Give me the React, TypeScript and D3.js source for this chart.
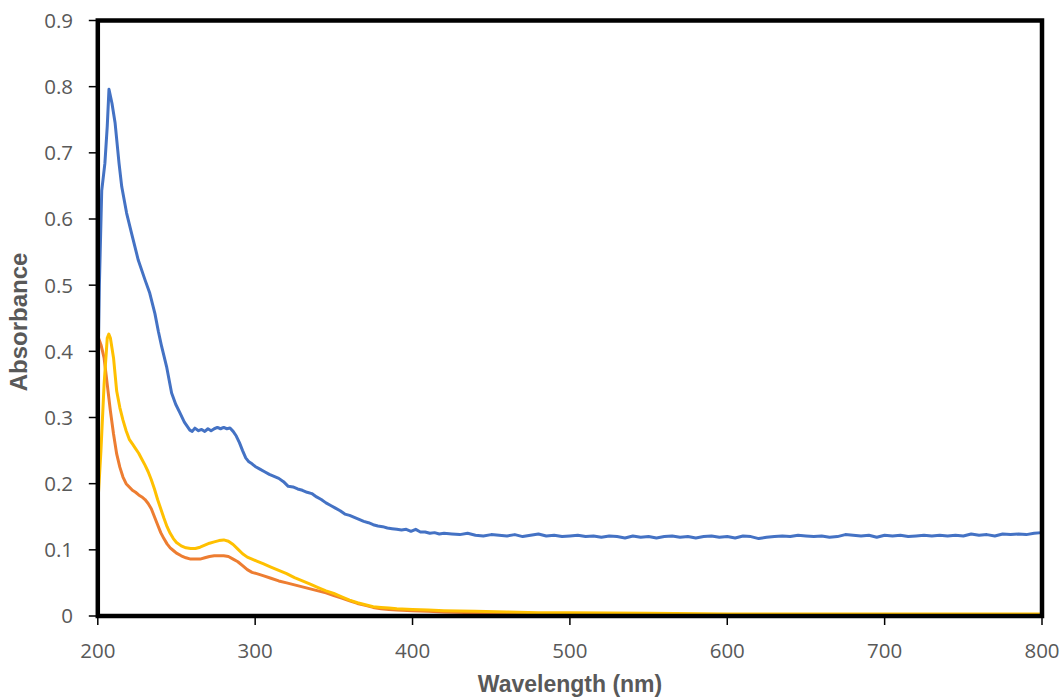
import React from "react";
import * as d3 from "d3";

const blueNm = [200, 201, 202.5, 204.5, 206, 207.1, 209, 211, 213.5, 215.2, 218.3, 221.5, 225.7, 230, 233, 236.3, 238.5, 240.6, 243.7, 246.9, 249.5, 252.2, 255, 258.5, 260, 261.7, 264, 266, 268, 270, 272, 274, 276, 278, 280, 282, 284, 286, 288, 290, 292, 294, 296, 298, 300, 303, 306, 309, 312, 315, 318, 321, 324, 327, 330, 333, 336, 339, 342, 345, 348, 351, 354, 357, 360, 363, 366, 369, 372, 375, 378, 381, 384, 387, 390, 393, 396, 399, 402, 405, 408, 411, 414, 417, 420, 425, 430, 435, 440, 445, 450, 455, 460, 465, 470, 475, 480, 485, 490, 495, 500, 505, 510, 515, 520, 525, 530, 535, 540, 545, 550, 555, 560, 565, 570, 575, 580, 585, 590, 595, 600, 605, 610, 615, 620, 625, 630, 635, 640, 645, 650, 655, 660, 665, 670, 675, 680, 685, 690, 695, 700, 705, 710, 715, 720, 725, 730, 735, 740, 745, 750, 755, 760, 765, 770, 775, 780, 785, 790, 795, 800];
const blueAbs = [0.354, 0.5, 0.643, 0.684, 0.74, 0.796, 0.775, 0.745, 0.684, 0.649, 0.609, 0.578, 0.538, 0.508, 0.488, 0.457, 0.43, 0.407, 0.377, 0.337, 0.32, 0.307, 0.293, 0.281, 0.279, 0.284, 0.28, 0.282, 0.279, 0.283, 0.28, 0.283, 0.285, 0.283, 0.285, 0.283, 0.284, 0.279, 0.272, 0.262, 0.25, 0.239, 0.233, 0.23, 0.226, 0.222, 0.218, 0.214, 0.211, 0.208, 0.203, 0.196, 0.195, 0.192, 0.19, 0.187, 0.185, 0.18, 0.176, 0.171, 0.167, 0.163, 0.159, 0.154, 0.152, 0.149, 0.146, 0.143, 0.141, 0.138, 0.136, 0.135, 0.133, 0.132, 0.131, 0.13, 0.131, 0.128, 0.131, 0.127, 0.127, 0.125, 0.126, 0.124, 0.125, 0.124, 0.123, 0.125, 0.122, 0.121, 0.123, 0.122, 0.121, 0.123, 0.12, 0.122, 0.124, 0.121, 0.122, 0.12, 0.121, 0.122, 0.12, 0.121, 0.119, 0.121, 0.12, 0.118, 0.121, 0.119, 0.12, 0.118, 0.12, 0.121, 0.119, 0.12, 0.118, 0.12, 0.121, 0.119, 0.12, 0.118, 0.121, 0.12, 0.117, 0.119, 0.12, 0.121, 0.12, 0.122, 0.121, 0.12, 0.121, 0.119, 0.12, 0.123, 0.122, 0.121, 0.122, 0.119, 0.122, 0.121, 0.122, 0.12, 0.121, 0.122, 0.121, 0.122, 0.121, 0.122, 0.121, 0.124, 0.122, 0.123, 0.121, 0.124, 0.123, 0.124, 0.123, 0.125, 0.126];

const orangeNm = [200, 202, 204, 206, 208, 210, 212, 214, 216, 218, 220, 222, 224, 226, 228, 230, 232, 234, 236, 238, 240, 242, 244, 246, 248, 250, 253, 256, 259, 262, 265, 268, 271, 274, 277, 280, 283, 286, 289, 292, 295, 298, 301, 305, 310, 315, 320, 325, 330, 335, 340, 345, 350, 355, 360, 365, 370, 375, 380, 385, 390, 400, 410, 420, 440, 460, 480, 500, 550, 600, 700, 800];
const orangeAbs = [0.423, 0.41, 0.39, 0.35, 0.31, 0.275, 0.245, 0.225, 0.21, 0.2, 0.195, 0.19, 0.187, 0.183, 0.18, 0.176, 0.17, 0.162, 0.15, 0.138, 0.126, 0.117, 0.109, 0.103, 0.099, 0.095, 0.091, 0.088, 0.086, 0.086, 0.086, 0.088, 0.09, 0.091, 0.091, 0.091, 0.09, 0.086, 0.082, 0.076, 0.07, 0.066, 0.064, 0.061, 0.057, 0.053, 0.05, 0.047, 0.044, 0.041, 0.038, 0.035, 0.031, 0.027, 0.023, 0.019, 0.016, 0.013, 0.011, 0.01, 0.009, 0.008, 0.007, 0.006, 0.005, 0.004, 0.003, 0.003, 0.002, 0.002, 0.002, 0.002];

const yellowNm = [200, 202, 204, 206, 207, 208, 210, 212, 214, 216, 218, 220, 222, 224, 226, 228, 230, 232, 234, 236, 238, 240, 242, 244, 246, 248, 250, 253, 256, 259, 262, 265, 268, 271, 274, 277, 280, 283, 286, 289, 292, 295, 298, 301, 305, 310, 315, 320, 325, 330, 335, 340, 345, 350, 355, 360, 365, 370, 375, 380, 385, 390, 400, 410, 420, 440, 460, 480, 500, 550, 600, 700, 800];
const yellowAbs = [0.168, 0.25, 0.35, 0.42, 0.426, 0.42, 0.39, 0.34, 0.315, 0.296, 0.28, 0.267, 0.26, 0.253, 0.246, 0.237, 0.228, 0.218, 0.206, 0.192, 0.176, 0.162, 0.148, 0.135, 0.125, 0.117, 0.111, 0.106, 0.103, 0.102, 0.102, 0.104, 0.107, 0.11, 0.112, 0.114, 0.115, 0.113, 0.108, 0.101, 0.094, 0.089, 0.086, 0.083, 0.079, 0.074, 0.069, 0.064, 0.058, 0.053, 0.048, 0.043, 0.038, 0.034, 0.029, 0.024, 0.02, 0.017, 0.014, 0.013, 0.012, 0.011, 0.01, 0.009, 0.008, 0.007, 0.006, 0.005, 0.005, 0.004, 0.003, 0.003, 0.003];

const xTicks = [200, 300, 400, 500, 600, 700, 800];
const yTicks = [0, 0.1, 0.2, 0.3, 0.4, 0.5, 0.6, 0.7, 0.8, 0.9];

const W = 1063;
const H = 698;
const L = 97.8;
const R = 1042;
const T = 20.5;
const B = 616;

export default function App() {
  const x = d3.scaleLinear().domain([200, 800]).range([L, R]);
  const y = d3.scaleLinear().domain([0, 0.9]).range([B, T]);
  const line = d3
    .line<[number, number]>()
    .x((d) => x(d[0]))
    .y((d) => y(d[1]));
  const series = [
    { nm: blueNm, v: blueAbs, color: "#4472C4" },
    { nm: orangeNm, v: orangeAbs, color: "#ED7D31" },
    { nm: yellowNm, v: yellowAbs, color: "#FFC000" },
  ];
  const tickFont = "'Open Sans', 'Noto Sans', sans-serif";
  const titleFont = "'Liberation Sans', Arial, sans-serif";
  return (
    <svg
      width={W}
      height={H}
      style={{ position: "absolute", left: 0, top: 0, background: "#fff" }}
    >
      {series.map((s, i) => (
        <path
          key={i}
          d={line(s.nm.map((n, j) => [n, s.v[j]] as [number, number])) || ""}
          fill="none"
          stroke={s.color}
          strokeWidth={3}
          strokeLinejoin="round"
        />
      ))}
      <rect
        x={L}
        y={T}
        width={R - L}
        height={B - T}
        fill="none"
        stroke="#000"
        strokeWidth={4.5}
      />
      {yTicks.map((t) => (
        <g key={"y" + t}>
          <line x1={L - 9} x2={L} y1={y(t)} y2={y(t)} stroke="#000" strokeWidth={1.5} />
          <text
            x={73}
            y={y(t)}
            dy="0.36em"
            textAnchor="end"
            fontFamily={tickFont}
            fontSize={20.5}
            fill="#595959"
          >
            {t === 0 ? "0" : t.toFixed(1)}
          </text>
        </g>
      ))}
      {xTicks.map((t) => (
        <g key={"x" + t}>
          <line x1={x(t)} x2={x(t)} y1={B} y2={B + 9} stroke="#000" strokeWidth={1.5} />
          <text
            x={x(t)}
            y={658}
            textAnchor="middle"
            fontFamily={tickFont}
            fontSize={20.5}
            fill="#595959"
          >
            {t}
          </text>
        </g>
      ))}
      <text
        x={570}
        y={692}
        textAnchor="middle"
        fontFamily={titleFont}
        fontWeight="bold"
        fontSize={23}
        fill="#595959"
      >
        Wavelength (nm)
      </text>
      <text
        transform={`translate(27, 322) rotate(-90)`}
        textAnchor="middle"
        fontFamily={titleFont}
        fontWeight="bold"
        fontSize={24}
        fill="#595959"
      >
        Absorbance
      </text>
    </svg>
  );
}
